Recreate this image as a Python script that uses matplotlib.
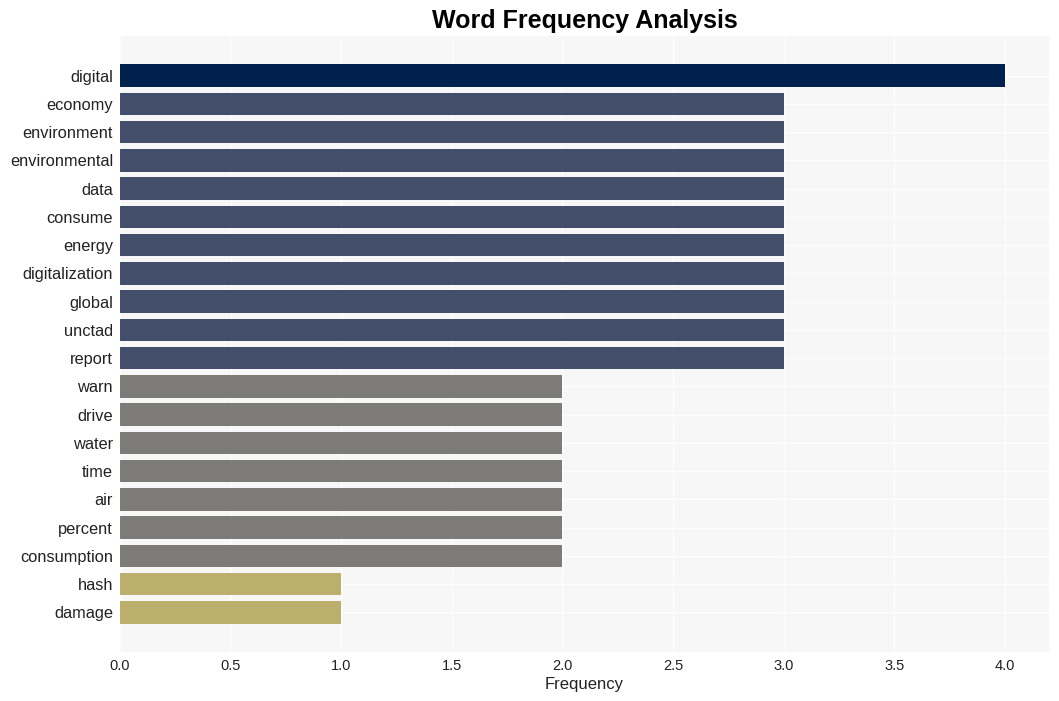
import matplotlib
matplotlib.use("Agg")
import matplotlib.pyplot as plt

words = ["digital", "economy", "environment", "environmental", "data", "consume",
         "energy", "digitalization", "global", "unctad", "report", "warn", "drive",
         "water", "time", "air", "percent", "consumption", "hash", "damage"]
freqs = [4, 3, 3, 3, 3, 3, 3, 3, 3, 3, 3, 2, 2, 2, 2, 2, 2, 2, 1, 1]
color_map = {4: "#00214d", 3: "#434e6b", 2: "#7c7b78", 1: "#bcaf6e"}
colors = [color_map[f] for f in freqs]

plt.rcParams['font.family'] = ['Liberation Sans', 'DejaVu Sans']
fig = plt.figure(figsize=(10.59, 7.01), dpi=100)
ax = fig.add_axes([120/1059, 1-652/701, (1049-120)/1059, (652-36)/701])
ax.set_facecolor("#f7f7f7")
ypos = list(range(len(words)))
ax.barh(ypos, freqs, height=0.8, color=colors, zorder=2)
ax.set_yticks(ypos)
ax.set_yticklabels(words, fontsize=11.8, color="#222222")
ax.set_ylim(len(words) - 1 + 1.4, -1.4)
ax.set_xlim(0, 4.2)
ax.set_xticks([0, 0.5, 1, 1.5, 2, 2.5, 3, 3.5, 4])
ax.set_xticklabels(["0.0", "0.5", "1.0", "1.5", "2.0", "2.5", "3.0", "3.5", "4.0"], fontsize=10.5, color="#222222")
ax.grid(True, color="white", linewidth=1.0, alpha=0.8, zorder=0)
ax.set_axisbelow(True)
for s in ax.spines.values():
    s.set_visible(False)
ax.tick_params(length=0, pad=5)
ax.set_xlabel("Frequency", fontsize=12, color="#222222", labelpad=3)
fig.suptitle("Word Frequency Analysis", fontsize=18, fontweight="bold", y=0.987, x=(120+1049)/2/1059)
fig.savefig("out.png", dpi=100, facecolor="white")
